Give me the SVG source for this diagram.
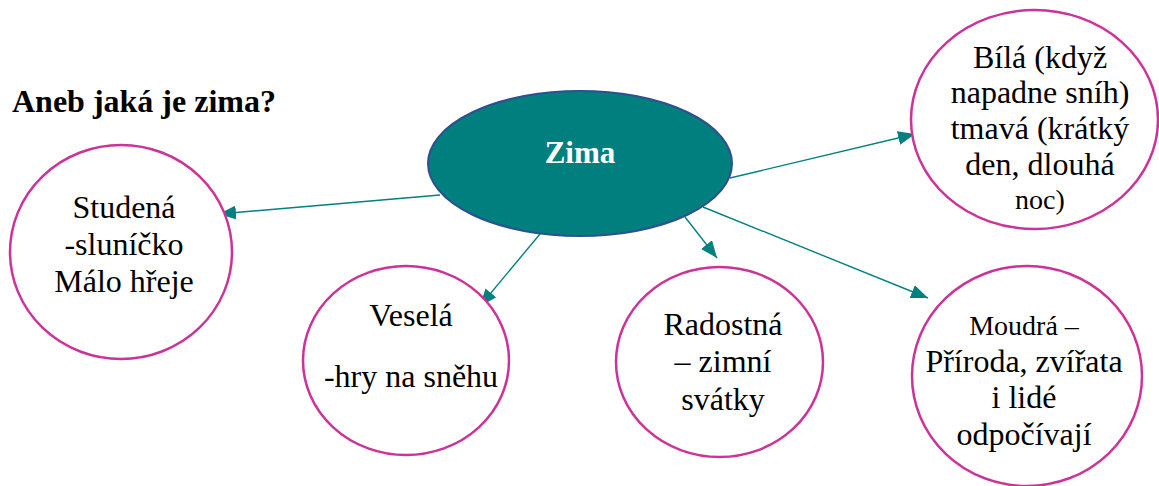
<svg xmlns="http://www.w3.org/2000/svg" width="1159" height="486" viewBox="0 0 1159 486">
<style>
text{font-family:"Liberation Serif","Times New Roman",serif}
.t{font-size:32px;fill:#000;text-anchor:middle}
.c{fill:#fff;stroke:#CC3399;stroke-width:2.5}
.e{stroke:#008080;stroke-width:1.4;fill:none;marker-end:url(#ah)}
</style>
<defs>
<marker id="ah" markerUnits="userSpaceOnUse" markerWidth="18" markerHeight="14" refX="17" refY="7" orient="auto">
<path d="M0,0 L17,7 L0,14 z" fill="#008080"/>
</marker>
</defs>
<rect width="1159" height="486" fill="#fff"/>
<text x="12" y="112" style="font-size:32px;font-weight:bold;fill:#000">Aneb jaká je zima?</text>
<g id="connectors">
<line class="e" x1="440" y1="195" x2="219" y2="214"/>
<line class="e" x1="540" y1="234" x2="480" y2="306"/>
<line class="e" x1="685" y1="217" x2="717" y2="258"/>
<line class="e" x1="703" y1="207" x2="928" y2="298"/>
<line class="e" x1="730" y1="178" x2="915" y2="134"/>
</g>
<g id="zima">
<ellipse cx="580" cy="163.5" rx="152" ry="72.5" fill="#007F7F" stroke="#2F4F8F" stroke-width="2"/>
<text x="580" y="163" class="t" style="font-weight:bold;fill:#fff;font-size:31px">Zima</text>
</g>
<g id="studena">
<ellipse class="c" cx="121" cy="252" rx="111" ry="107"/>
<text class="t" x="124" y="218">Studená</text>
<text class="t" x="124" y="255">-sluníčko</text>
<text class="t" x="124" y="292">Málo hřeje</text>
</g>
<g id="vesela">
<ellipse class="c" cx="406" cy="360.5" rx="103" ry="94.5"/>
<text class="t" x="411" y="326">Veselá</text>
<text class="t" x="411" y="387">-hry na sněhu</text>
</g>
<g id="radostna">
<ellipse class="c" cx="719.5" cy="362" rx="103.5" ry="95"/>
<text class="t" x="723" y="335">Radostná</text>
<text class="t" x="723" y="372">– zimní</text>
<text class="t" x="723" y="410">svátky</text>
</g>
<g id="moudra">
<ellipse class="c" cx="1027" cy="376" rx="115" ry="110"/>
<text class="t" x="1024" y="335" style="font-size:28px">Moudrá –</text>
<text class="t" x="1024" y="372">Příroda, zvířata</text>
<text class="t" x="1024" y="408">i lidé</text>
<text class="t" x="1024" y="445">odpočívají</text>
</g>
<g id="bila">
<ellipse class="c" cx="1034.5" cy="119.5" rx="123.5" ry="109.5"/>
<text class="t" x="1040" y="68">Bílá (když</text>
<text class="t" x="1040" y="103">napadne sníh)</text>
<text class="t" x="1040" y="139">tmavá (krátký</text>
<text class="t" x="1040" y="175">den, dlouhá</text>
<text class="t" x="1040" y="209" style="font-size:28px">noc)</text>
</g>
</svg>
